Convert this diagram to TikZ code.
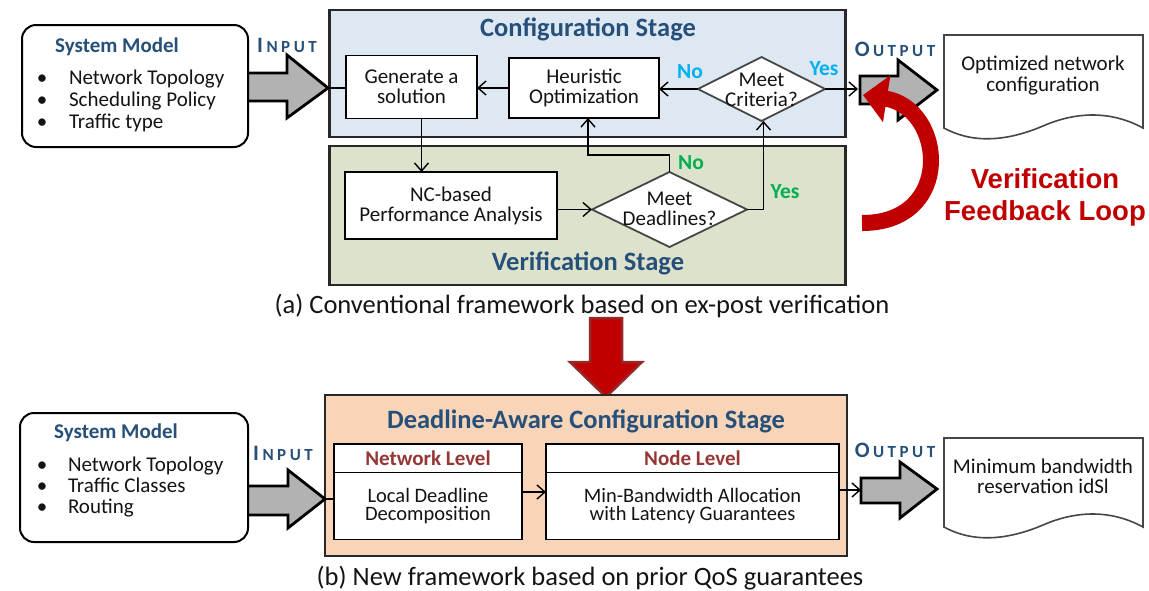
\documentclass[tikz,border=0pt]{standalone}
\usepackage{fontspec}
\setmainfont{Carlito}
\newfontfamily\arialfont{Liberation Sans}
\usetikzlibrary{shapes.geometric,arrows.meta,calc}
\definecolor{cfgfill}{RGB}{222,232,242}
\definecolor{verfill}{RGB}{221,226,204}
\definecolor{peach}{RGB}{248,213,184}
\definecolor{titleblue}{RGB}{38,80,122}
\definecolor{cyanlbl}{RGB}{0,176,240}
\definecolor{greenlbl}{RGB}{0,176,80}
\definecolor{brownlbl}{RGB}{149,55,53}
\definecolor{darkred}{RGB}{192,0,0}
\definecolor{redborder}{RGB}{150,40,40}
\definecolor{arrowgray}{RGB}{178,178,178}
\definecolor{stageborder}{RGB}{40,40,40}
\definecolor{docborder}{RGB}{70,70,70}
\definecolor{textcol}{RGB}{20,20,20}
\newcommand{\inputlbl}{\bfseries{\fontsize{22}{22}\selectfont I}\kern3.5pt{\fontsize{17}{17}\selectfont N\kern3.5pt P\kern3.5pt U\kern3.5pt T}}
\newcommand{\outputlbl}{\bfseries{\fontsize{22}{22}\selectfont O}\kern3.5pt{\fontsize{17}{17}\selectfont U\kern3.5pt T\kern3.5pt P\kern3.5pt U\kern3.5pt T}}
\begin{document}
\begin{tikzpicture}[x=1pt,y=-1pt,
  every node/.style={inner sep=0pt, outer sep=0pt},
  stagebox/.style={draw=stageborder, line width=2.2pt},
  title/.style={font=\fontsize{26.5}{28}\selectfont\bfseries, text=titleblue},
  body/.style={font=\fontsize{21}{21}\selectfont, text=textcol},
  box/.style={draw=black, line width=1.8pt, fill=white, align=center, font=\fontsize{21}{20}\selectfont, text=textcol},
  lowbox/.style={draw=black, line width=1.8pt, fill=white, align=center, font=\fontsize{20.5}{18.5}\selectfont, text=textcol},
  dia/.style={diamond, draw=docborder, line width=1.8pt, fill=white},
  smbox/.style={draw=black, line width=2pt, rounded corners=14pt, fill=white},
  smtitle/.style={font=\fontsize{21}{21}\selectfont\bfseries, text=titleblue},
  lbl/.style={font=\fontsize{21.5}{21}\selectfont\bfseries},
  iolbl/.style={text=titleblue},
  caption/.style={font=\fontsize{26.5}{28}\selectfont, text=textcol},
  conn/.style={line width=1.4pt},
  arr/.style={line width=1.4pt, -{Straight Barb[length=8pt,width=14pt,line width=1.4pt]}},
  blockarrow/.style={fill=arrowgray, draw=black, line width=2.8pt, line join=miter},
  docshape/.style={draw=docborder, line width=1.6pt, fill=white}]
\useasboundingbox (0,0) rectangle (1149,590);
\fill[white] (0,0) rectangle (1149,590);

% ---------- (a) ----------
\node[stagebox, fill=cfgfill, minimum width=516pt, minimum height=127pt] (cfg) at (587.5,73.5) {};
\node[stagebox, fill=verfill, minimum width=516pt, minimum height=139pt] (ver) at (587.5,215.5) {};
\node[title, anchor=base] (cfgT) at (588,36) {Configuration Stage};
\node[title, anchor=base] (verT) at (588,270) {Verification Stage};

% input arrow (a)
\draw[blockarrow] (244,73) -- (287,73) -- (287,55) -- (328,88) -- (287,118) -- (287,101) -- (244,101) -- cycle;
\coordinate (inA) at (328,88);
\node[smbox, minimum width=226pt, minimum height=122pt] (sm1) at (135,86) {};
\node[smtitle, anchor=base] (sm1T) at (117,52) {System Model};
\foreach \t [count=\i] in {Network Topology, Scheduling Policy, Traffic type}{
  \node[body, anchor=base] (b1\i) at (42,{84+22*(\i-1)}) {\textbullet};
  \node[body, anchor=base west] (t1\i) at (69,{84+22*(\i-1)}) {\t};
}
\node[iolbl, anchor=base] (inLa) at (287,52) {\inputlbl};

\node[box, minimum width=131pt, minimum height=63pt] (gen) at (411.5,87) {Generate a\\solution};
\node[box, minimum width=150pt, minimum height=60pt] (heur) at (584,88) {Heuristic\\Optimization};
\node[dia, minimum width=127pt, minimum height=64pt] (crit) at (761.5,89) {};
\node[body, align=center, font=\fontsize{21}{20}\selectfont] (critT) at (761.5,90) {Meet\\Criteria?};
\node[box, minimum width=212pt, minimum height=67pt] (nc) at (451,205.5) {NC-based\\Performance Analysis};
\node[dia, minimum width=155pt, minimum height=75pt] (dead) at (669.5,209.5) {};
\node[body, align=center, font=\fontsize{21}{20}\selectfont] (deadT) at (669.5,209) {Meet\\Deadlines?};

\draw[conn] (inA) -- (inA -| gen.west);
\draw[arr] (crit.west) -- (crit.west -| heur.east);
\draw[arr] (heur.west) -- (heur.west -| gen.east);
\draw[arr] ([xshift=10pt]gen.south) -- ([xshift=10pt]gen.south |- nc.north);
\draw[arr] (dead.west -| nc.east) -- (dead.west);
\draw[arr] (dead.north) -- ++(0,-17) -| ([xshift=4pt]heur.south);
\draw[arr] (dead.east) -| ([xshift=2pt]crit.south);
\coordinate (outA) at (858,89);
\draw[arr] (crit.east) -- (outA);

\node[lbl, text=cyanlbl, anchor=base] (noC) at (690,78) {No};
\node[lbl, text=cyanlbl, anchor=base] (yesC) at (824,75) {Yes};
\node[lbl, text=greenlbl, anchor=base] (noD) at (691,169) {No};
\node[lbl, text=greenlbl, anchor=base] (yesD) at (785,198) {Yes};

% output (a)
\node[iolbl, anchor=base] (outLa) at (895,56) {\outputlbl};
\draw[blockarrow] (860,76) -- (898,76) -- (898,60) -- (937,90) -- (898,120) -- (898,104) -- (860,104) -- cycle;
\draw[docshape] (944,35) -- (1143,35) -- (1143,128) .. controls (1110,110) and (1075,112) .. (1043,126) .. controls (1010,140) and (975,145) .. (944,128) -- cycle;
\node[body, align=center] (docA) at (1043,76) {Optimized network\\configuration};

% feedback loop
\draw[darkred, line width=16pt, -{Triangle[length=24pt,width=46pt]}] (862,223) .. controls (955,223) and (945,108) .. (863,95);
\node[font=\arialfont\fontsize{27.5}{32}\selectfont\bfseries, text=darkred, align=center] (fbT) at (1045,197) {Verification\\Feedback Loop};

\node[caption, anchor=base] (capA) at (582,313) {(a) Conventional framework based on ex-post verification};

% transition arrow
\draw[fill=darkred, draw=redborder, line width=2.5pt, line join=miter] (590,318) -- (622,318) -- (622,362) -- (642,362) -- (606,397) -- (570,362) -- (590,362) -- cycle;

% ---------- (b) ----------
\node[stagebox, fill=peach, minimum width=522pt, minimum height=161pt] (dac) at (586,475.5) {};
\node[title, anchor=base] (dacT) at (586,428) {Deadline-Aware Configuration Stage};

\draw[blockarrow] (244,486) -- (288,486) -- (288,470) -- (325,499) -- (288,528) -- (288,515) -- (244,515) -- cycle;
\coordinate (inB) at (325,499);
\node[smbox, minimum width=228pt, minimum height=129pt] (sm2) at (134,477.5) {};
\node[smtitle, anchor=base] (sm2T) at (116,438) {System Model};
\foreach \t [count=\i] in {Network Topology, Traffic Classes, Routing}{
  \node[body, anchor=base] (b2\i) at (42,{471+21*(\i-1)}) {\textbullet};
  \node[body, anchor=base west] (t2\i) at (68,{471+21*(\i-1)}) {\t};
}
\node[iolbl, anchor=base] (inLb) at (283,460) {\inputlbl};

\node[lowbox, minimum width=188pt, minimum height=29pt, font=\fontsize{21}{21}\selectfont\bfseries, text=brownlbl] (netH) at (428,458.5) {Network Level};
\node[lowbox, minimum width=188pt, minimum height=67pt] (netB) at (428,506) {Local Deadline\\Decomposition};
\node[lowbox, minimum width=293pt, minimum height=29pt, font=\fontsize{21}{21}\selectfont\bfseries, text=brownlbl] (nodeH) at (692.5,458.5) {Node Level};
\node[lowbox, minimum width=293pt, minimum height=67pt] (nodeB) at (692.5,506) {Min-Bandwidth Allocation\\with Latency Guarantees};

\draw[conn] (inB) -- (inB -| netB.west);
\coordinate (midB) at (534,492);
\draw[arr] (netB.east |- midB) -- (nodeB.west |- midB);
\coordinate (outB) at (861,490);
\draw[arr] (nodeB.east |- outB) -- (outB);

\node[iolbl, anchor=base] (outLb) at (895,457) {\outputlbl};
\draw[blockarrow] (861,478) -- (900,478) -- (900,462) -- (937,489) -- (900,518) -- (900,503) -- (861,503) -- cycle;
\draw[docshape] (944,438) -- (1143,438) -- (1143,527) .. controls (1110,509) and (1075,511) .. (1043,525) .. controls (1010,539) and (975,544) .. (944,527) -- cycle;
\node[body, align=center, font=\fontsize{21}{20}\selectfont] (docB) at (1043,476) {Minimum bandwidth\\reservation idSl};

\node[caption, anchor=base] (capB) at (590,585) {(b) New framework based on prior QoS guarantees};
\end{tikzpicture}
\end{document}
